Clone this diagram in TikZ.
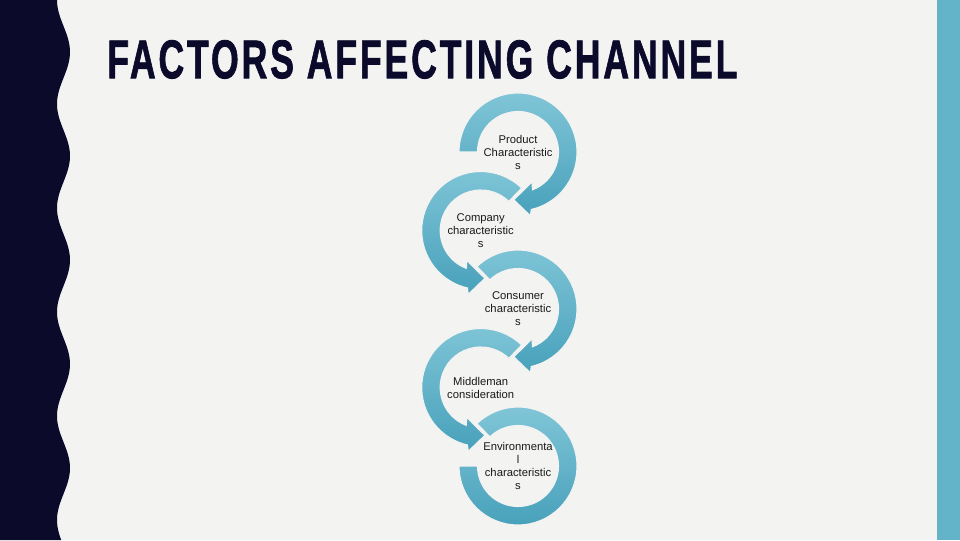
\documentclass[tikz,border=0pt]{standalone}
\usepackage{graphicx}
\usepackage{fontspec}
\setmainfont{Liberation Sans}
\newfontfamily\headfont[LetterSpace=8,FakeBold=1.6]{Liberation Sans}
\usetikzlibrary{calc}
\definecolor{slide}{HTML}{F3F3F1}
\definecolor{navy}{HTML}{0B0A2B}
\definecolor{barblue}{HTML}{64B4C9}
\definecolor{ringlight}{HTML}{80C5D7}
\definecolor{ringdark}{HTML}{48A1BB}
\definecolor{ink}{HTML}{1A1A1A}
\tikzset{
  ring/.style={top color=ringlight,bottom color=ringdark,draw=slide,
               line width=0.8pt},
  factor/.style={align=center,inner sep=0pt,text=ink,
                 font=\fontsize{8pt}{9.25pt}\selectfont},
  heading/.style={anchor=south west,inner sep=0pt,text=navy}
}

\begin{document}
\begin{tikzpicture}[x=0.025cm,y=0.025cm]
    \useasboundingbox (0,0) rectangle (960,540);
    \fill[slide] (0,0) rectangle (960,540);
    \fill[navy] (0,0) -- plot[variable=\t,domain=0:540,samples=200]
      ({63.5-6.5*cos(3.4615*(540-\t))},\t) -- (0,540) -- cycle;
    \fill[barblue] (937,0) rectangle (960,540);
    \node[heading] (title) at (107,461)
      {\resizebox{15.75cm}{0.95cm}{\headfont\bfseries FACTORS AFFECTING CHANNEL}};
    \coordinate (c1) at (518,388);
    \coordinate (c2) at (480.7,309.5);
    \coordinate (c3) at (518,231);
    \coordinate (c4) at (480.7,152.5);
    \coordinate (c5) at (518,74);
    \path[ring] ([shift={(180:59)}]c5) arc[start angle=180,end angle=494,radius=59]
      -- ([shift={(494:40.5)}]c5) arc[start angle=494,end angle=180,radius=40.5] -- cycle;
    \path[ring] ([shift={(46:59)}]c4) arc[start angle=46,end angle=257,radius=59]
      -- ([shift={(259:65)}]c4) -- ([shift={(275:48)}]c4) -- ([shift={(245:33)}]c4)
      -- ([shift={(249:40.5)}]c4) arc[start angle=249,end angle=46,radius=40.5] -- cycle;
    \path[ring] ([shift={(134:59)}]c3) arc[start angle=134,end angle=-77,radius=59]
      -- ([shift={(-79:65)}]c3) -- ([shift={(-95:48)}]c3) -- ([shift={(-65:33)}]c3)
      -- ([shift={(-69:40.5)}]c3) arc[start angle=-69,end angle=134,radius=40.5] -- cycle;
    \path[ring] ([shift={(46:59)}]c2) arc[start angle=46,end angle=257,radius=59]
      -- ([shift={(259:65)}]c2) -- ([shift={(275:48)}]c2) -- ([shift={(245:33)}]c2)
      -- ([shift={(249:40.5)}]c2) arc[start angle=249,end angle=46,radius=40.5] -- cycle;
    \path[ring] ([shift={(180:59)}]c1) arc[start angle=180,end angle=-77,radius=59]
      -- ([shift={(-79:65)}]c1) -- ([shift={(-95:48)}]c1) -- ([shift={(-65:33)}]c1)
      -- ([shift={(-69:40.5)}]c1) arc[start angle=-69,end angle=180,radius=40.5] -- cycle;
    \node[factor] (product) at (c1) {Product\\Characteristic\\s};
    \node[factor] (company) at (c2) {Company\\characteristic\\s};
    \node[factor] (consumer) at (c3) {Consumer\\characteristic\\s};
    \node[factor] (middleman) at (c4) {Middleman\\consideration};
    \node[factor] (environment) at (c5) {Environmenta\\l\\characteristic\\s};
  \end{tikzpicture}
\end{document}
